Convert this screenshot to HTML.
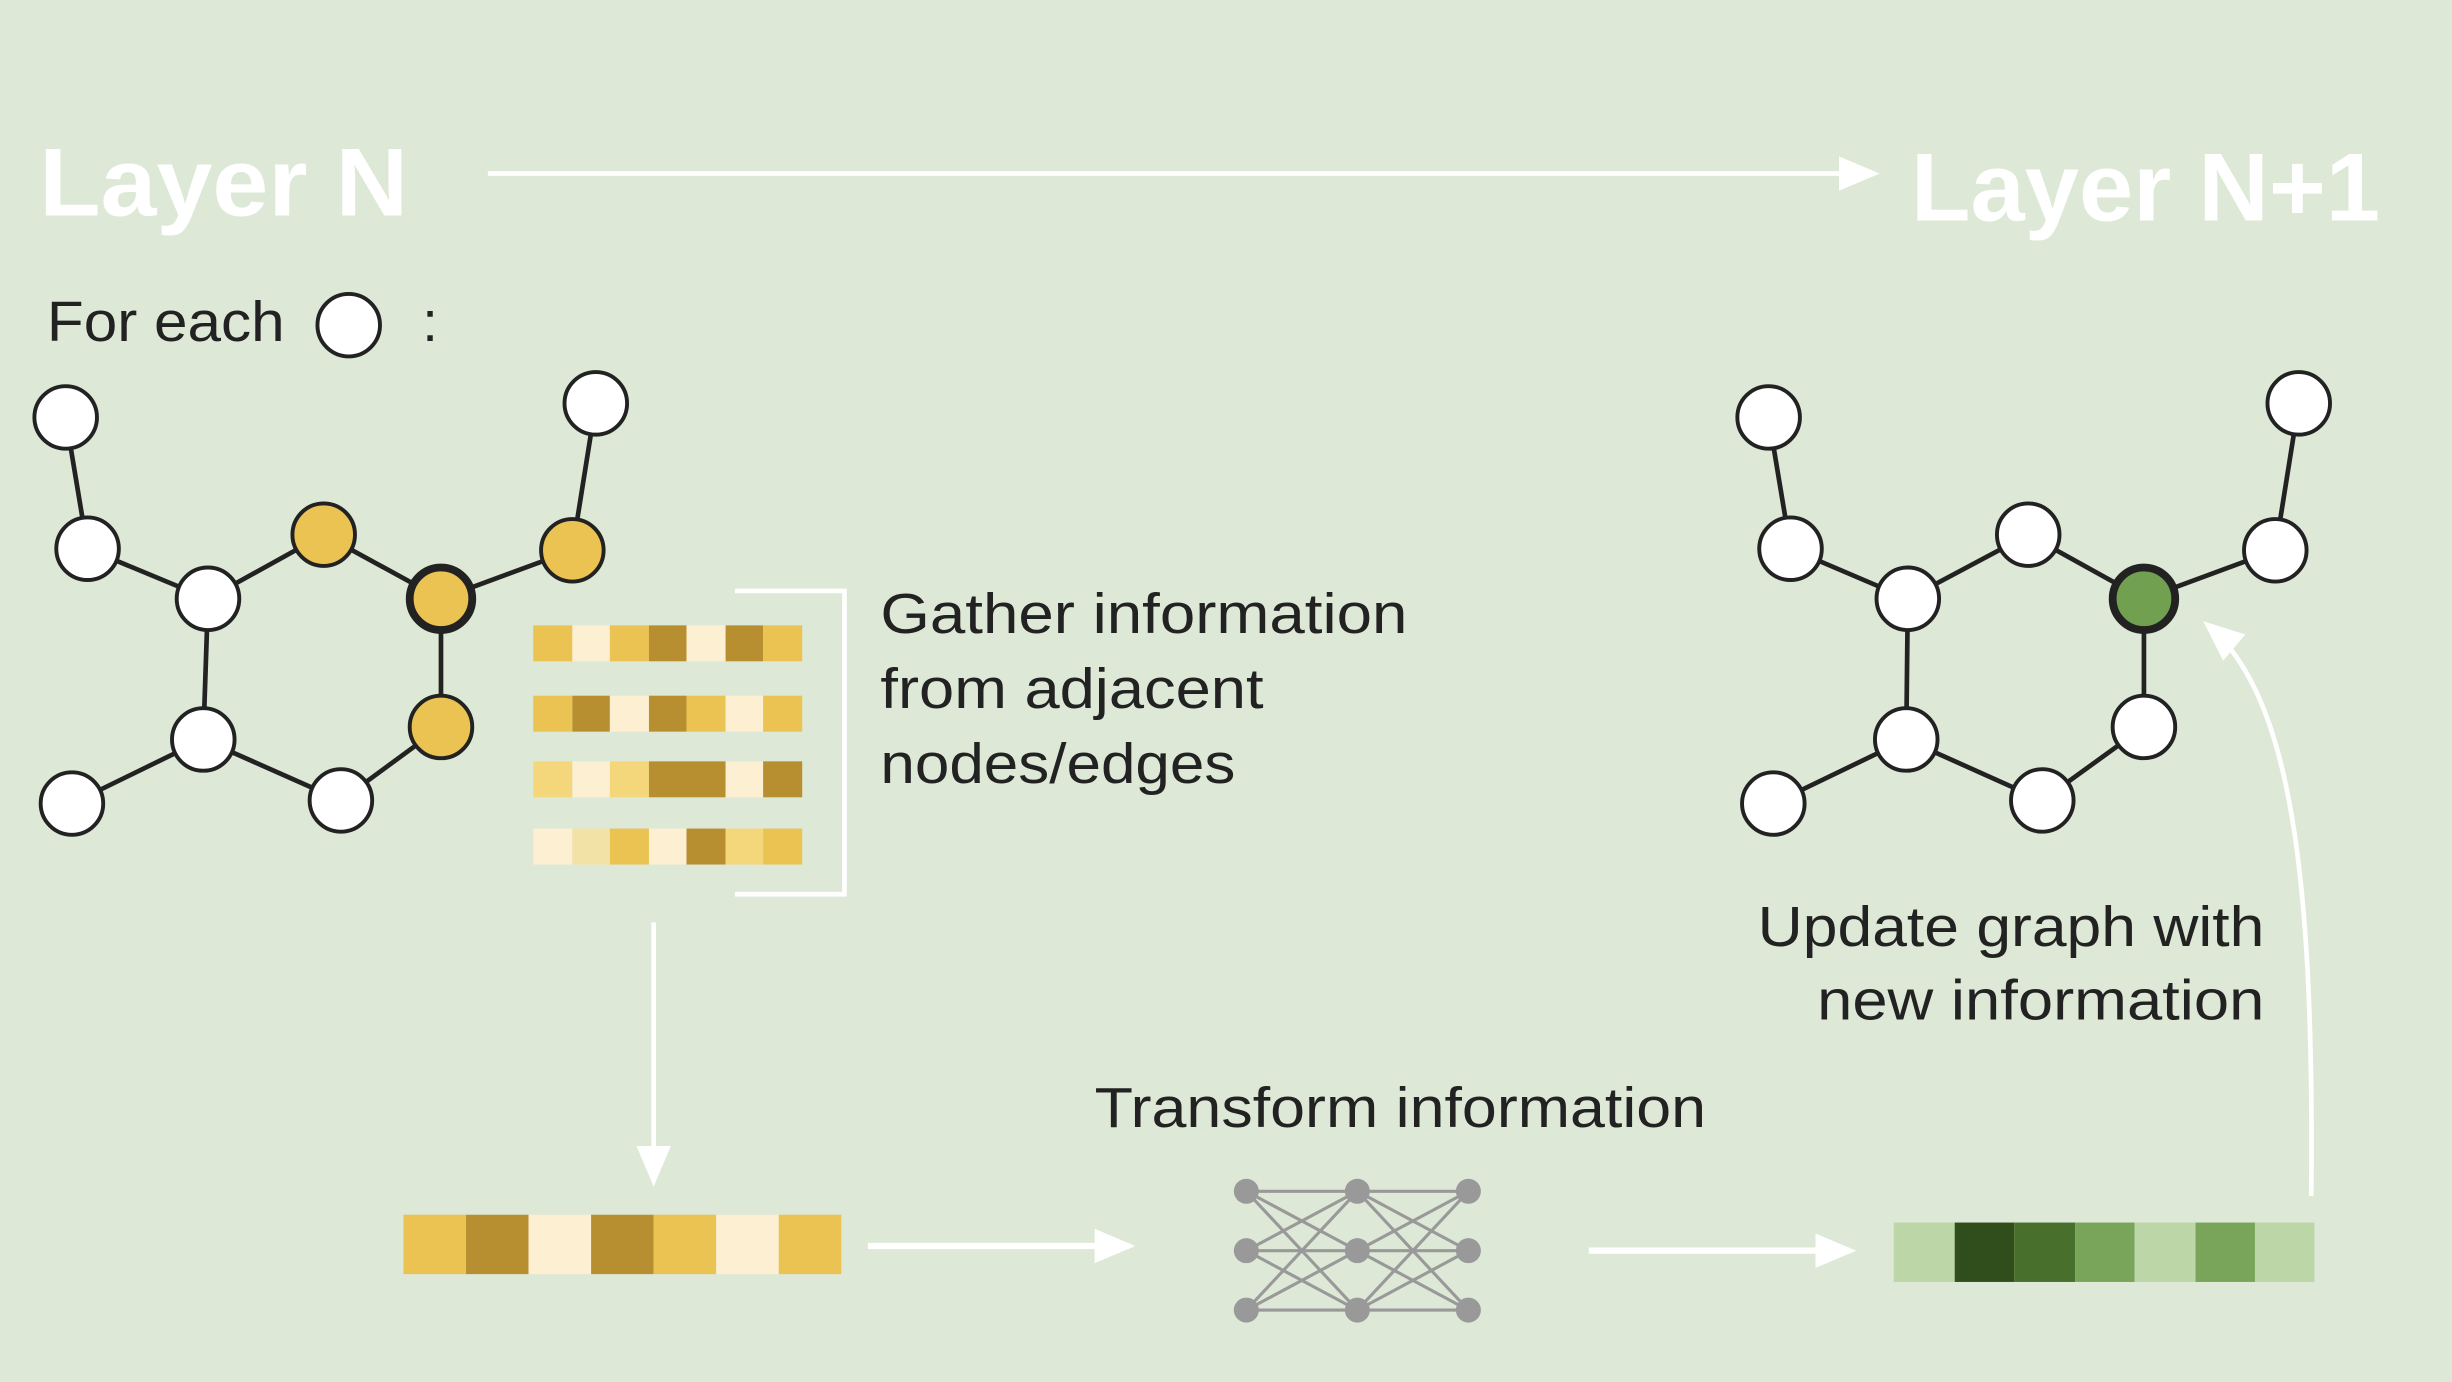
<!DOCTYPE html>
<html><head><meta charset="utf-8"><style>
html,body{margin:0;padding:0;background:#dde9d6;}
svg{display:block;}
text{font-family:"Liberation Sans",sans-serif;}
</style></head><body>
<svg width="2452" height="1382" viewBox="0 0 1568 884" preserveAspectRatio="none" xmlns="http://www.w3.org/2000/svg">
<defs>
<marker id="ah2" markerWidth="26" markerHeight="26" refX="22" refY="13" orient="auto" markerUnits="userSpaceOnUse" viewBox="0 0 26 26"><path d="M0,2 L26,13 L0,24 z" fill="#fff"/></marker>
</defs>
<rect width="1568" height="884" fill="#dde9d6"/>
<text x="25" y="138" font-size="62" font-weight="bold" fill="#fff" textLength="236" lengthAdjust="spacingAndGlyphs">Layer N</text>
<text x="1222" y="141" font-size="62" font-weight="bold" fill="#fff" textLength="300" lengthAdjust="spacingAndGlyphs">Layer N+1</text>
<line x1="312" y1="111" x2="1198" y2="111" stroke="#fff" stroke-width="3" marker-end="url(#ah2)"/>
<text x="30" y="218" font-size="36" fill="#222" textLength="152" lengthAdjust="spacingAndGlyphs">For each</text>
<circle cx="223" cy="208" r="20" fill="#fff" stroke="#222" stroke-width="2.5"/>
<text x="270" y="218" font-size="36" fill="#222">:</text>

<g stroke="#222" stroke-width="3">
<line x1="42" y1="267" x2="56" y2="351"/><line x1="381" y1="258" x2="366" y2="352"/>
<line x1="56" y1="351" x2="133" y2="383"/><line x1="133" y1="383" x2="207" y2="342"/>
<line x1="207" y1="342" x2="282" y2="383"/><line x1="282" y1="383" x2="366" y2="352"/>
<line x1="133" y1="383" x2="130" y2="473"/><line x1="282" y1="383" x2="282" y2="465"/>
<line x1="130" y1="473" x2="46" y2="514"/><line x1="130" y1="473" x2="218" y2="512"/>
<line x1="218" y1="512" x2="282" y2="465"/>
</g>
<g stroke="#222" stroke-width="2.5" fill="#fff">
<circle cx="42" cy="267" r="20"/><circle cx="381" cy="258" r="20"/><circle cx="56" cy="351" r="20"/>
<circle cx="133" cy="383" r="20"/><circle cx="207" cy="342" r="20" fill="#eac352"/>
<circle cx="366" cy="352" r="20" fill="#eac352"/><circle cx="130" cy="473" r="20"/>
<circle cx="282" cy="465" r="20" fill="#eac352"/><circle cx="218" cy="512" r="20"/><circle cx="46" cy="514" r="20"/>
<circle cx="282" cy="383" r="20" fill="#eac352" stroke-width="5"/>
</g>

<g stroke="#222" stroke-width="3">
<line x1="1131" y1="267" x2="1145" y2="351"/><line x1="1470" y1="258" x2="1455" y2="352"/>
<line x1="1145" y1="351" x2="1220" y2="383"/><line x1="1220" y1="383" x2="1297" y2="342"/>
<line x1="1297" y1="342" x2="1371" y2="383"/><line x1="1371" y1="383" x2="1455" y2="352"/>
<line x1="1220" y1="383" x2="1219" y2="473"/><line x1="1371" y1="383" x2="1371" y2="465"/>
<line x1="1219" y1="473" x2="1134" y2="514"/><line x1="1219" y1="473" x2="1306" y2="512"/>
<line x1="1306" y1="512" x2="1371" y2="465"/>
</g>
<g stroke="#222" stroke-width="2.5" fill="#fff">
<circle cx="1131" cy="267" r="20"/><circle cx="1470" cy="258" r="20"/><circle cx="1145" cy="351" r="20"/>
<circle cx="1220" cy="383" r="20"/><circle cx="1297" cy="342" r="20"/>
<circle cx="1455" cy="352" r="20"/><circle cx="1219" cy="473" r="20"/>
<circle cx="1371" cy="465" r="20"/><circle cx="1306" cy="512" r="20"/><circle cx="1134" cy="514" r="20"/>
<circle cx="1371" cy="383" r="20" fill="#70a050" stroke-width="5"/>
</g>

<g>
<rect x="341" y="400" width="25" height="23" fill="#eac352"/><rect x="366" y="400" width="24" height="23" fill="#fcefd2"/><rect x="390" y="400" width="25" height="23" fill="#eac352"/><rect x="415" y="400" width="24" height="23" fill="#b88f30"/><rect x="439" y="400" width="25" height="23" fill="#fcefd2"/><rect x="464" y="400" width="24" height="23" fill="#b88f30"/><rect x="488" y="400" width="25" height="23" fill="#eac352"/>
<rect x="341" y="445" width="25" height="23" fill="#eac352"/><rect x="366" y="445" width="24" height="23" fill="#b88f30"/><rect x="390" y="445" width="25" height="23" fill="#fcefd2"/><rect x="415" y="445" width="24" height="23" fill="#b88f30"/><rect x="439" y="445" width="25" height="23" fill="#eac352"/><rect x="464" y="445" width="24" height="23" fill="#fcefd2"/><rect x="488" y="445" width="25" height="23" fill="#eac352"/>
<rect x="341" y="487" width="25" height="23" fill="#f4d77a"/><rect x="366" y="487" width="24" height="23" fill="#fcefd2"/><rect x="390" y="487" width="25" height="23" fill="#f4d77a"/><rect x="415" y="487" width="49" height="23" fill="#b88f30"/><rect x="464" y="487" width="24" height="23" fill="#fcefd2"/><rect x="488" y="487" width="25" height="23" fill="#b88f30"/>
<rect x="341" y="530" width="25" height="23" fill="#fcefd2"/><rect x="366" y="530" width="24" height="23" fill="#f3e2a6"/><rect x="390" y="530" width="25" height="23" fill="#eac352"/><rect x="415" y="530" width="24" height="23" fill="#fcefd2"/><rect x="439" y="530" width="25" height="23" fill="#b88f30"/><rect x="464" y="530" width="24" height="23" fill="#f4d77a"/><rect x="488" y="530" width="25" height="23" fill="#eac352"/>
</g>
<polyline points="470,378 540,378 540,572 470,572" fill="none" stroke="#fff" stroke-width="3"/>
<text x="563" y="405" font-size="36" fill="#222" textLength="337" lengthAdjust="spacingAndGlyphs">Gather information</text>
<text x="563" y="453" font-size="36" fill="#222" textLength="245" lengthAdjust="spacingAndGlyphs">from adjacent</text>
<text x="563" y="501" font-size="36" fill="#222" textLength="227" lengthAdjust="spacingAndGlyphs">nodes/edges</text>

<line x1="418" y1="590" x2="418" y2="755" stroke="#fff" stroke-width="3" marker-end="url(#ah2)"/>
<g>
<rect x="258" y="777" width="40" height="38" fill="#eac352"/><rect x="298" y="777" width="40" height="38" fill="#b88f30"/><rect x="338" y="777" width="40" height="38" fill="#fcefd2"/><rect x="378" y="777" width="40" height="38" fill="#b88f30"/><rect x="418" y="777" width="40" height="38" fill="#eac352"/><rect x="458" y="777" width="40" height="38" fill="#fcefd2"/><rect x="498" y="777" width="40" height="38" fill="#eac352"/>
</g>
<line x1="555" y1="797" x2="722" y2="797" stroke="#fff" stroke-width="4" marker-end="url(#ah2)"/>
<text x="700" y="721" font-size="36" fill="#222" textLength="391" lengthAdjust="spacingAndGlyphs">Transform information</text>
<g stroke="#999" stroke-width="2">
<line x1="797" y1="762" x2="868" y2="762"/><line x1="868" y1="762" x2="939" y2="762"/>
<line x1="797" y1="800" x2="868" y2="800"/><line x1="868" y1="800" x2="939" y2="800"/>
<line x1="797" y1="838" x2="868" y2="838"/><line x1="868" y1="838" x2="939" y2="838"/>
<line x1="797" y1="762" x2="868" y2="800"/><line x1="797" y1="762" x2="868" y2="838"/>
<line x1="797" y1="800" x2="868" y2="762"/><line x1="797" y1="800" x2="868" y2="838"/>
<line x1="797" y1="838" x2="868" y2="762"/><line x1="797" y1="838" x2="868" y2="800"/>
<line x1="868" y1="762" x2="939" y2="800"/><line x1="868" y1="762" x2="939" y2="838"/>
<line x1="868" y1="800" x2="939" y2="762"/><line x1="868" y1="800" x2="939" y2="838"/>
<line x1="868" y1="838" x2="939" y2="762"/><line x1="868" y1="838" x2="939" y2="800"/>
</g>
<g fill="#999">
<circle cx="797" cy="762" r="8"/><circle cx="868" cy="762" r="8"/><circle cx="939" cy="762" r="8"/>
<circle cx="797" cy="800" r="8"/><circle cx="868" cy="800" r="8"/><circle cx="939" cy="800" r="8"/>
<circle cx="797" cy="838" r="8"/><circle cx="868" cy="838" r="8"/><circle cx="939" cy="838" r="8"/>
</g>
<line x1="1016" y1="800" x2="1183" y2="800" stroke="#fff" stroke-width="4" marker-end="url(#ah2)"/>
<g>
<rect x="1211" y="782" width="39" height="38" fill="#bcd6a8"/><rect x="1250" y="782" width="38" height="38" fill="#2f4e1c"/><rect x="1288" y="782" width="39" height="38" fill="#486f2c"/><rect x="1327" y="782" width="38" height="38" fill="#79a55a"/><rect x="1365" y="782" width="39" height="38" fill="#bcd6a8"/><rect x="1404" y="782" width="38" height="38" fill="#79a55a"/><rect x="1442" y="782" width="38" height="38" fill="#bcd6a8"/>
</g>
<path d="M1478,765 C1480,560 1465,445 1412,400" fill="none" stroke="#fff" stroke-width="3" marker-end="url(#ah2)"/>
<text x="1124" y="605" font-size="36" fill="#222" textLength="324" lengthAdjust="spacingAndGlyphs">Update graph with</text>
<text x="1162" y="652" font-size="36" fill="#222" textLength="286" lengthAdjust="spacingAndGlyphs">new information</text>
</svg>
</body></html>
